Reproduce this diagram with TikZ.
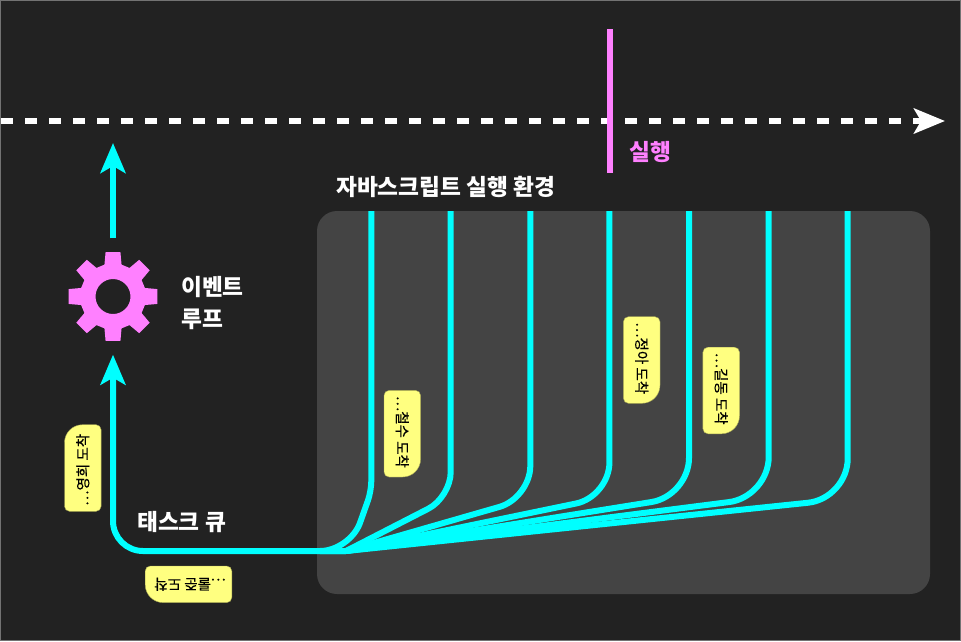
\documentclass[tikz,border=0pt]{standalone}
\usepackage{fontspec}
\setmainfont{Noto Sans CJK KR}
\newfontfamily\notefont[FakeBold=0.3]{Noto Sans CJK KR}
\usetikzlibrary{arrows.meta,positioning}
\definecolor{darkbg}{RGB}{34,34,34}
\definecolor{panelgray}{RGB}{68,68,68}
\definecolor{lanecyan}{RGB}{0,255,255}
\definecolor{gearpink}{RGB}{255,128,255}
\definecolor{notepale}{RGB}{255,255,128}

\tikzset{
    lane/.style={draw=lanecyan, line width=6pt, line join=round},
    flow/.style={lane, -{Stealth[length=30pt, width=25pt, inset=7pt]}},
    title/.style={text=white, font=\fontsize{22.7}{26}\selectfont\bfseries, inner sep=0pt},
    note/.style={text=black, font=\notefont\fontsize{14.5}{16}\selectfont, inner sep=0pt, anchor=west},
}
% yellow note: name, centre, rotation, text
\newcommand{\bubble}[4]{%
    \begin{scope}[shift={#2}, rotate=#3]
    \fill[notepale, draw=notepale!65!black, line width=0.4pt, rounded corners=5pt]
        (-43.3,0) -- (-43.3,18.3) -- (0,18.3) [rounded corners=5pt] -- (43.3,18.3)
        [rounded corners=18pt] -- (43.3,-18.3) [rounded corners=5pt] -- (-43.3,-18.3) -- cycle;
    \node[note, rotate=#3] (#1) at (-38,0) {#4};
    \end{scope}
}

\begin{document}
\begin{tikzpicture}[x=1pt, y=-1pt]
\useasboundingbox (0,0) rectangle (961,641);
\fill[darkbg] (0,0) rectangle (961,641);
\draw[draw=black!55, line width=1pt] (0.5,0.5) rectangle (960.5,640.5);
\fill[panelgray, rounded corners=20pt] (317,211) rectangle (930,594);

% time line
\coordinate (start) at (1,121);
\coordinate (end) at (945,121);
\draw[draw=white, line width=6pt, dash pattern=on 12pt off 12pt,
    -{Stealth[length=31pt, width=25pt, inset=7pt]}] (start) -- (end);
\coordinate (runtop) at (610,29);
\coordinate (runbot) at (610,173);
\draw[draw=gearpink, line width=6pt] (runtop) -- (runbot);
\node[title, text=gearpink, anchor=west] (run) at (629,152) {실행};
\node[title, anchor=west] (env) at (336,187) {자바스크립트 실행 환경};

% gear
\node[circle, minimum size=116pt, inner sep=0pt] (loop) at (113,296.5) {};
\begin{scope}[shift={(loop.center)}]
\fill[gearpink, even odd rule] (-15:33)
    \foreach \a in {0,45,...,315} {
        -- (\a-15:33) -- (\a-9.5:45) -- (\a+9.5:45) -- (\a+15:33)
    } -- cycle (0,0) circle (17.5);
\end{scope}
\node[title, anchor=west] (looptop) at (181,287.5) {이벤트};
\node[title, anchor=west] (loopbot) at (181,319.5) {루프};
\node[title, anchor=west] (queue) at (137,522) {태스크 큐};

% lanes
\coordinate (merge) at (346,551);
\coordinate (exit) at (113,143);
\foreach \name/\x/\y/\r in {b/450.7/497.2/25, c/530.3/498/32, d/609.4/496.6/34, e/689/496/38, f/768.7/497/40, g/847.7/498.6/40} {
    \coordinate (top\name) at (\x,211);
    \draw[lane, rounded corners=\r pt] (top\name) -- (\x,\y) -- (merge);
}
\coordinate (topa) at (371.3,211);
\draw[lane] (topa) [rounded corners=10pt] -- (371.3,491) [rounded corners=30pt] -- (350,551) -- (merge);
\draw[flow] (loop.north) -- (exit);
\draw[flow, rounded corners=30pt] (merge) -- (loop|-merge) -- (loop.south);

% notes
\bubble{cheolsu}{(402.3,433.7)}{-90}{…철수 도착}
\bubble{jeonga}{(641.7,360)}{-90}{…정아 도착}
\bubble{gildong}{(721.2,390.5)}{-90}{…길동 도착}
\bubble{younghee}{(82.8,468)}{90}{…영희 도착}
\bubble{rulle}{(188.5,584.3)}{180}{…룰준 도착}
\end{tikzpicture}
\end{document}
